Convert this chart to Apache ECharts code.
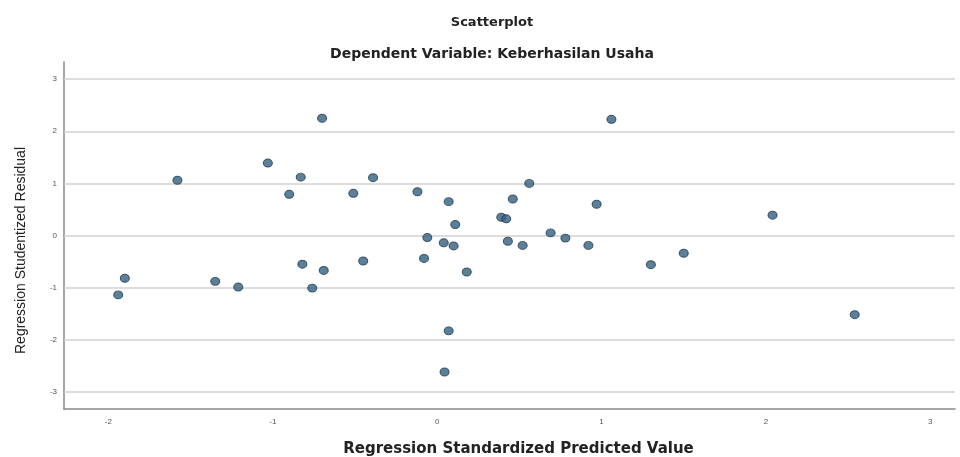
<!DOCTYPE html>
<html>
<head>
<meta charset="utf-8">
<script src="https://cdn.jsdelivr.net/npm/echarts@6/dist/echarts.min.js"></script>
<style>
  html, body { margin: 0; padding: 0; background: #fff; }
  #chart { width: 960px; height: 457px; }
</style>
</head>
<body>
<div id="chart"></div>
<script>
// predicted value (standardized) and studentized residual
const predicted = [
  -1.94, -1.90, -1.58, -1.35, -1.21, -1.03, -0.90, -0.83, -0.82, -0.76,
  -0.70, -0.69, -0.51, -0.45, -0.39, -0.12, -0.08, -0.06, 0.04, 0.045,
  0.07, 0.07, 0.10, 0.11, 0.18, 0.39, 0.42, 0.43, 0.46, 0.52,
  0.56, 0.69, 0.78, 0.92, 0.97, 1.06, 1.30, 1.50, 2.04, 2.54
];
const residual = [
  -1.14, -0.82, 1.06, -0.88, -0.99, 1.39, 0.79, 1.12, -0.55, -1.01,
  2.25, -0.67, 0.81, -0.49, 1.11, 0.84, -0.44, -0.04, -0.14, -2.62,
  0.65, -1.83, -0.20, 0.21, -0.70, 0.35, 0.32, -0.11, 0.70, -0.19,
  1.00, 0.05, -0.05, -0.19, 0.60, 2.23, -0.56, -0.34, 0.39, -1.52
];
const xTicks = [-2, -1, 0, 1, 2, 3];
const yTicks = [-3, -2, -1, 0, 1, 2, 3];

const chart = echarts.init(document.getElementById('chart'));

const points = predicted.map((x, i) => [x, residual[i]]);

const tickLabel = { color: '#555', fontSize: 8, fontFamily: 'Liberation Sans' };

const option = {
  backgroundColor: '#fff',
  animation: false,
  title: [
    {
      text: 'Scatterplot',
      left: 487, top: 11, textAlign: 'center',
      textStyle: { fontFamily: 'DejaVu Sans', fontWeight: 'bold', fontSize: 13, color: '#222' }
    },
    {
      text: 'Dependent Variable: Keberhasilan Usaha',
      left: 487, top: 42, textAlign: 'center',
      textStyle: { fontFamily: 'DejaVu Sans', fontWeight: 'bold', fontSize: 14, color: '#222' }
    }
  ],
  grid: { left: 64, right: 5, top: 62, bottom: 48, outerBoundsMode: 'none', containLabel: false },
  xAxis: {
    type: 'value',
    min: -2.27, max: 3.15,
    name: 'Regression Standardized Predicted Value',
    nameLocation: 'middle',
    nameGap: 33,
    nameTextStyle: {
      fontFamily: 'DejaVu Sans', fontWeight: 'bold', fontSize: 15, color: '#222',
      padding: [0, 0, 0, 18]
    },
    axisLine: { onZero: false, lineStyle: { color: '#888', width: 1.5 } },
    axisTick: { show: false },
    splitLine: { show: false },
    axisLabel: Object.assign({ customValues: xTicks, margin: 9 }, tickLabel)
  },
  yAxis: {
    type: 'value',
    min: -3.33, max: 3.33,
    name: 'Regression Studentized Residual',
    nameLocation: 'middle',
    nameGap: 36,
    nameTextStyle: {
      fontFamily: 'Liberation Sans Narrow, Liberation Sans', fontSize: 14, color: '#222',
      padding: [0, 30, 0, 0]
    },
    axisLine: { onZero: false, lineStyle: { color: '#888', width: 1.5 } },
    axisTick: { show: false },
    splitLine: { show: false },
    axisLabel: Object.assign({ customValues: yTicks, margin: 7 }, tickLabel)
  },
  series: [
    {
      type: 'scatter',
      data: points,
      symbol: 'circle',
      symbolSize: [9, 8],
      itemStyle: { color: '#35607f', borderColor: '#1d3850', borderWidth: 1 },
      z: 5,
      markLine: {
        silent: true,
        symbol: 'none',
        label: { show: false },
        lineStyle: { type: 'solid', color: '#d2d2d2', width: 1.5 },
        data: yTicks.map(v => ({ yAxis: v })),
        z: 1
      }
    }
  ]
};

chart.setOption(option);
</script>
</body>
</html>
